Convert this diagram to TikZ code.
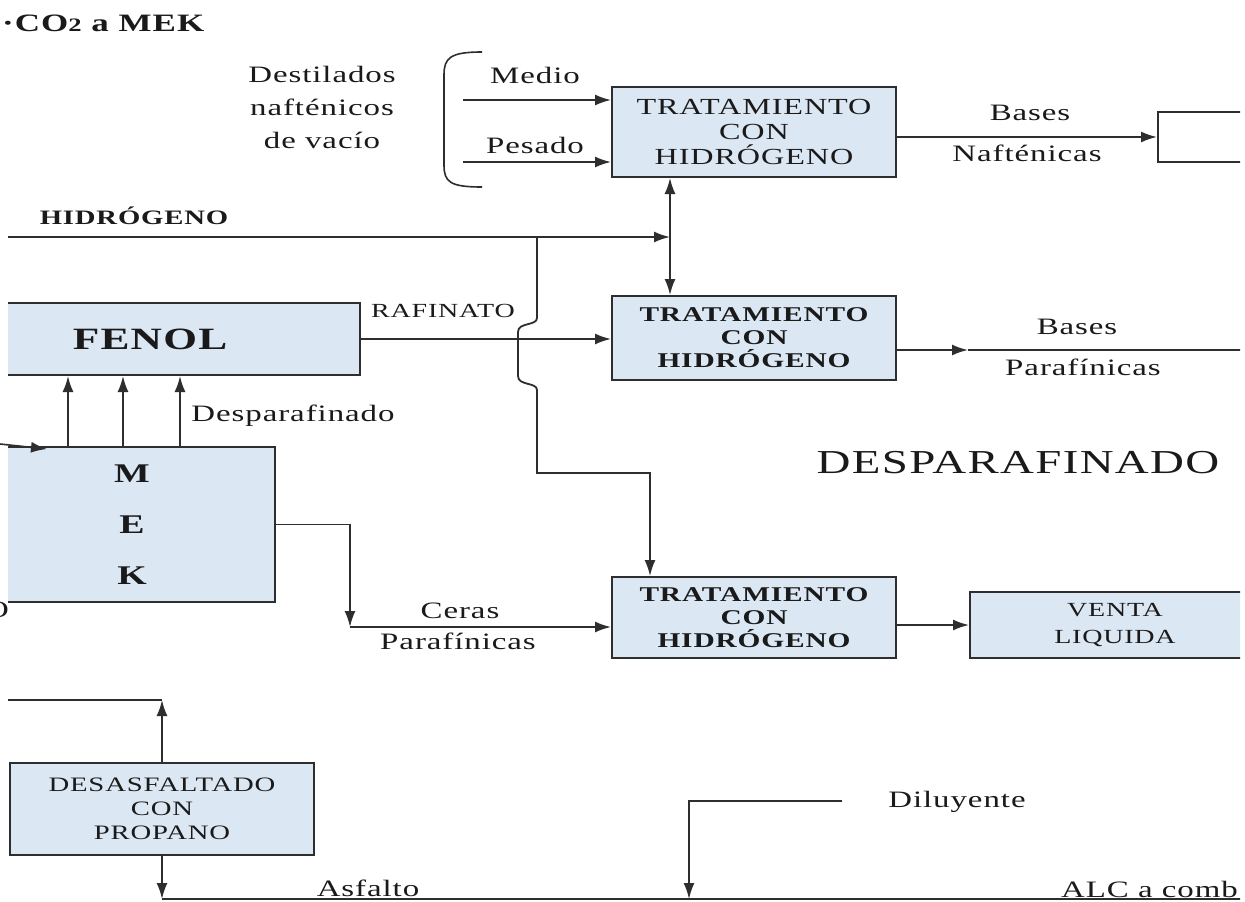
\documentclass[tikz,border=0pt]{standalone}
\usepackage{fontspec}
\setmainfont{Liberation Serif}[FakeStretch=1.4,LetterSpace=4]
\usetikzlibrary{arrows.meta}
\definecolor{boxfill}{HTML}{DCE7F4}
\definecolor{ink}{HTML}{2E2E2E}
\definecolor{txt}{HTML}{1A1A1A}

\begin{document}
\begin{tikzpicture}[x=1pt,y=-1pt,
  every node/.style={inner sep=0pt, text=txt},
  lbl/.style={font=\fontsize{23.5}{33}\selectfont, align=center},
  proc/.style={draw=ink, line width=2pt, fill=boxfill, align=center},
  flow/.style={draw=ink, line width=1.8pt},
  arr/.style={flow, -{Latex[length=16pt,width=11pt]}},
  arrboth/.style={flow, {Latex[length=16pt,width=11pt]}-{Latex[length=16pt,width=11pt]}}]

\clip (0,0) rectangle (1245,902);
\fill[white] (0,0) rectangle (1245,902);

% heading fragment and cut-off glyph at the left border
\node[anchor=west, font=\bfseries\fontsize{25}{28}\selectfont] (co2) at (2,23) {·CO{\fontsize{19}{20}\selectfont 2} a MEK};
\node[lbl] (cut) at (-3,610) {O};

\begin{scope}
\clip (8,0) rectangle (1240,902);

% process units
\node[proc, minimum width=284pt, minimum height=90pt, font=\fontsize{23}{25}\selectfont] (t1) at (754,132) {TRATAMIENTO\\CON\\HIDRÓGENO};
\node[proc, minimum width=284pt, minimum height=84pt, font=\bfseries\fontsize{21}{23}\selectfont] (t2) at (754,338) {TRATAMIENTO\\CON\\HIDRÓGENO};
\node[proc, minimum width=284pt, minimum height=81pt, font=\bfseries\fontsize{21}{23}\selectfont] (t3) at (754,617.5) {TRATAMIENTO\\CON\\HIDRÓGENO};
\node[proc, minimum width=290pt, minimum height=66pt, font=\fontsize{20}{27}\selectfont] (venta) at (1115,625) {VENTA\\LIQUIDA};
\node[draw=ink, line width=2pt, fill=white, minimum width=142pt, minimum height=50pt] (nb) at (1229,137) {};
\node[proc, minimum width=420pt, minimum height=72pt, font=\bfseries\fontsize{31}{33}\selectfont] (fenol) at (150,339) {FENOL};
\node[proc, minimum width=286pt, minimum height=155pt, font=\bfseries\fontsize{27}{51}\selectfont] (mek) at (132,524.5) {M\\E\\K};
\node[proc, minimum width=304pt, minimum height=92pt, font=\fontsize{20.5}{24}\selectfont] (des) at (162,809) {DESASFALTADO\\CON\\PROPANO};

% feed bracket for the naphthenic distillates
\draw[flow, line width=1.6pt] (482,52) .. controls (450,52) and (444,58) .. (444,75) -- (444,165) .. controls (444,182) and (450,187) .. (482,187);

% feeds to the first hydrotreater
\coordinate (m1) at (463,100);
\coordinate (p1) at (463,162);
\draw[arr] (m1) -- (m1 -| t1.west);
\draw[arr] (p1) -- (p1 -| t1.west);
\draw[arr] (t1.east |- nb.west) -- (nb.west);

% hydrogen header
\coordinate (h0) at (8,237);
\coordinate (hj) at (670,237);
\coordinate (hb) at (537,237);
\draw[arr] (h0) -- (hj);
\draw[arrboth] (t1.south -| hj) -- (t2.north -| hj);
\draw[arr] (hb) -- (537,318) .. controls (537,326) and (518,322) .. (518,332)
  -- (518,376) .. controls (518,386) and (537,382) .. (537,390)
  -- (537,473) -- (650,473) -- (650,0 |- t3.north);

% raffinate and paraffinic bases
\draw[arr] (fenol.east) -- (fenol.east -| t2.west);
\coordinate (pa) at (968,350);
\coordinate (bp) at (1245,350);
\draw[arr] (t2.east |- pa) -- (pa);
\draw[flow] (pa) -- (bp);

% dewaxed oil from MEK to phenol
\foreach \dx in {-64,-9,48}
  \draw[arr] ([xshift=\dx pt]mek.north) -- ([xshift=\dx pt]mek.north |- fenol.south);

% waxes to the third hydrotreater
\coordinate (cj) at (350,627);
\draw[arr] (mek.east) -| (cj);
\draw[arr] (cj) -- (cj -| t3.west);
\draw[arr] (t3.east |- venta.west) -- (venta.west);

% propane deasphalting
\coordinate (dl) at (8,700);
\coordinate (bl) at (1245,899);
\draw[flow] (dl) -- (des.north |- dl);
\draw[arr] (des.north) -- (des.north |- dl);
\draw[arr] (des.south) -- (des.south |- bl);
\draw[flow] (des.south |- bl) -- (bl);
\coordinate (dd) at (842,801);
\coordinate (dj) at (689,899);
\draw[arr] (dd) -| (dj);
\end{scope}

% feed entering MEK from the left
\coordinate (mi) at (0,444);
\coordinate (mt) at (47,449);
\draw[arr, line width=1.6pt] (mi) -- (mt);

% stream labels
\node[lbl] (destil) at (322,107) {Destilados\\nafténicos\\de vacío};
\node[lbl] (medio) at (535,75) {Medio};
\node[lbl] (pesado) at (535,145) {Pesado};
\node[lbl] (bn1) at (1030,113) {Bases};
\node[lbl] (bn2) at (1027,153) {Nafténicas};
\node[font=\bfseries\fontsize{20.5}{22}\selectfont] (hidro) at (134,216) {HIDRÓGENO};
\node[font=\fontsize{20}{22}\selectfont] (raf) at (443,311) {RAFINATO};
\node[lbl] (bp1) at (1077,327) {Bases};
\node[lbl] (bp2) at (1083,367) {Parafínicas};
\node[lbl] (despl) at (293,416) {Desparafinado};
\node[font=\fontsize{33.5}{36}\selectfont] (desp) at (1018,463) {DESPARAFINADO};
\node[lbl] (ceras) at (460,611) {Ceras};
\node[lbl] (cparaf) at (458,641) {Parafínicas};
\node[lbl] (dil) at (957,802) {Diluyente};
\node[lbl] (asf) at (368,888) {Asfalto};
\node[lbl, anchor=west] (alc) at (1061,889) {ALC a comb};
\end{tikzpicture}
\end{document}
